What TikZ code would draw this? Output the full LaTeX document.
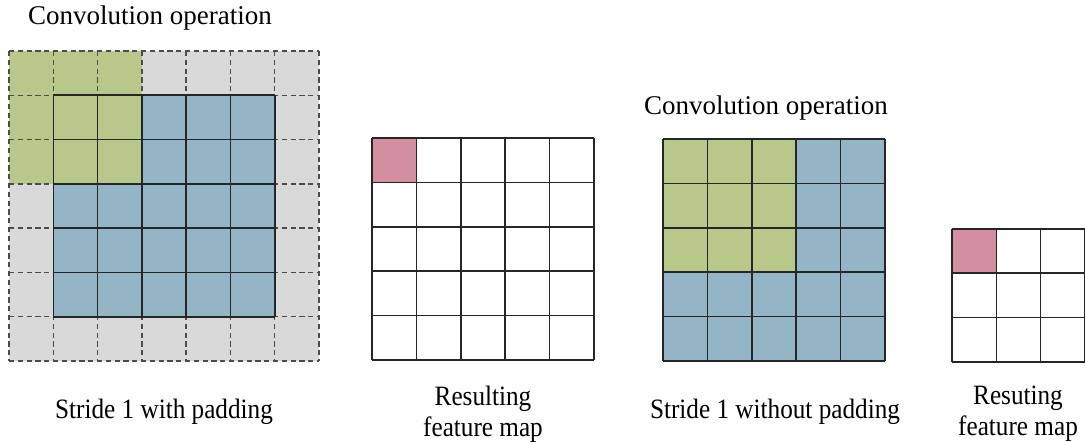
\documentclass[tikz,border=0pt]{standalone}
\usepackage{fontspec}
\setmainfont{Liberation Serif}
\newfontfamily\captionserif[FakeStretch=0.9]{Liberation Serif}

\definecolor{kernelgreen}{HTML}{B8C78A}
\definecolor{inputblue}{HTML}{93B5C6}
\definecolor{padgray}{HTML}{D9D9D9}
\definecolor{outpink}{HTML}{D38F9F}

\begin{document}
\begin{tikzpicture}[x=0.5pt,y=-0.5pt,
		gridline/.style={line width=0.8pt, black!85},
		padline/.style={line width=0.7pt, black!70, dash pattern=on 2.6pt off 1.8pt},
		lbl/.style={font=\fontsize{13.5}{15.5}\selectfont, align=center, inner sep=0pt},
		caplbl/.style={font=\captionserif\fontsize{14}{15.5}\selectfont, align=center, inner sep=0pt}]
		\useasboundingbox (0,0) rectangle (1085,442);
		
		% stride 1 with padding: 7x7 input (one ring of padding)
		\fill[padgray] (9,51) rectangle (319,361);
		\fill[inputblue] (53.3,95.3) rectangle (274.7,316.7);
		\fill[kernelgreen] (9,51) rectangle (141.9,183.9);
		\foreach \i in {0,...,7} {
			\draw[padline] (9+\i*44.29,51) -- (9+\i*44.29,361);
			\draw[padline] (9,51+\i*44.29) -- (319,51+\i*44.29);
		}
		\foreach \i in {0,...,5} {
			\draw[gridline] (53.3+\i*44.29,95.3) -- (53.3+\i*44.29,316.7);
			\draw[gridline] (53.3,95.3+\i*44.29) -- (274.7,95.3+\i*44.29);
		}
		
		% 5x5 output
		\fill[outpink] (372,138) rectangle (416.4,182.4);
		\foreach \i in {0,...,5} {
			\draw[gridline] (372+\i*44.4,138) -- (372+\i*44.4,360);
			\draw[gridline] (372,138+\i*44.4) -- (594,138+\i*44.4);
		}
		
		% stride 1 without padding: 5x5 input
		\fill[inputblue] (663,139) rectangle (885,361);
		\fill[kernelgreen] (663,139) rectangle (796.2,272.2);
		\foreach \i in {0,...,5} {
			\draw[gridline] (663+\i*44.4,139) -- (663+\i*44.4,361);
			\draw[gridline] (663,139+\i*44.4) -- (885,139+\i*44.4);
		}
		
		% 3x3 output
		\fill[outpink] (952,229) rectangle (996.3,273.3);
		\foreach \i in {0,...,3} {
			\draw[gridline] (952+\i*44.3,229) -- (952+\i*44.3,361.9);
			\draw[gridline] (952,229+\i*44.3) -- (1084.9,229+\i*44.3);
		}
		
		\node[lbl] (title-pad) at (150,18) {Convolution operation};
		\node[lbl] (title-nopad) at (766,108) {Convolution operation};
		
		\node[caplbl] (cap-pad) at (164,412) {Stride 1 with padding};
		\node[caplbl] (cap-pad-out) at (483,414) {Resulting\\feature map};
		\node[caplbl] (cap-nopad) at (775,412) {Stride 1 without padding};
		\node[caplbl] (cap-nopad-out) at (1018,414) {Resuting\\feature map};
	\end{tikzpicture}
\end{document}
